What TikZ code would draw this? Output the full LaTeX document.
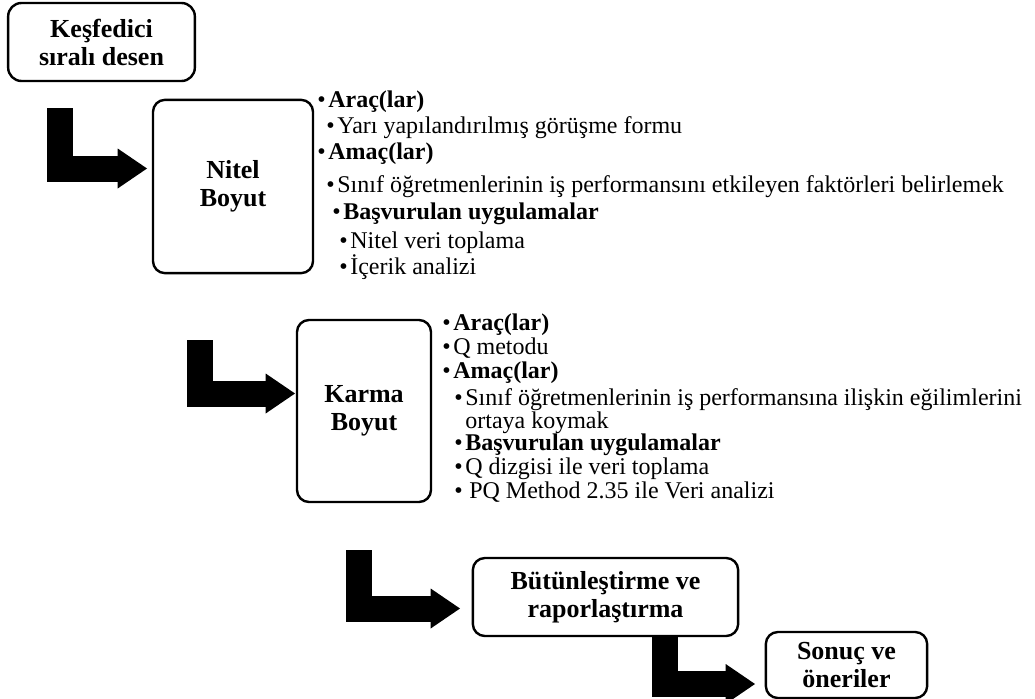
\documentclass[tikz,border=0pt]{standalone}
\usepackage{fontspec}
\setmainfont{Liberation Serif}
\usetikzlibrary{arrows.meta}
\newcommand{\bul}[1]{\hspace*{#1}\textbullet\hspace{2pt}}

\begin{document}
\begin{tikzpicture}[
  x=0.75pt,y=-0.75pt,
  stage/.style={draw=black,line width=1.8pt,rounded corners=9pt,fill=white,align=center,inner sep=2pt,font=\bfseries\fontsize{19.5}{21}\selectfont},
  items/.style={align=left,inner sep=0pt,anchor=north west},
  bentarrow/.style={draw=black,line width=19.5pt,-{Triangle[length=22pt,width=30pt,line width=0pt]}}
]
\useasboundingbox (0,0) rectangle (1035,699);

\node[stage,minimum width=140pt,minimum height=58.5pt,rounded corners=10pt] (kesif) at (101.5,42) {Keşfedici\\sıralı desen};
\node[stage,minimum width=120pt,minimum height=130pt] (nitel) at (233,186.5) {Nitel\\Boyut};
\node[stage,minimum width=100.5pt,minimum height=136.5pt] (karma) at (364,411) {Karma\\Boyut};
\node[stage,minimum width=199pt,minimum height=58.5pt] (butun) at (605.5,597) {Bütünleştirme ve\\raporlaştırma};
\node[stage,minimum width=121pt,minimum height=49.5pt] (sonuc) at (846.5,665) {Sonuç ve\\öneriler};

% madde listeleri
\node[items,font=\fontsize{18}{19.5}\selectfont] (nitelitems) at (317,91) {%
\bul{0pt}\textbf{Araç(lar)}\\
\bul{6.75pt}Yarı yapılandırılmış görüşme formu\\
\bul{0pt}\textbf{Amaç(lar)}\\[5.25pt]
\bul{6.75pt}Sınıf öğretmenlerinin iş performansını etkileyen faktörleri belirlemek\\[0.75pt]
\bul{11.25pt}\textbf{Başvurulan uygulamalar}\\[2.25pt]
\bul{16.5pt}Nitel veri toplama\\
\bul{16.5pt}İçerik analizi};
\node[items,font=\fontsize{18}{18}\selectfont] (karmaitems) at (442,314) {%
\bul{0pt}\textbf{Araç(lar)}\\
\bul{0pt}Q metodu\\
\bul{0pt}\textbf{Amaç(lar)}\\[2pt]
\bul{9pt}Sınıf öğretmenlerinin iş performansına ilişkin eğilimlerini\\[-1pt]
\hspace*{9pt}\phantom{\textbullet}\hspace{2pt}ortaya koymak\\[-1pt]
\bul{9pt}\textbf{Başvurulan uygulamalar}\\
\bul{9pt}Q dizgisi ile veri toplama\\
\bul{9pt}\hspace{3pt}PQ Method 2.35 ile Veri analizi};

% bükük oklar
\coordinate (a1top) at (60,108);
\coordinate (a1tip) at (147,168.5);
\coordinate (a2top) at (199.5,340);
\coordinate (a2tip) at (295,393.5);
\coordinate (a3top) at (358.5,550);
\coordinate (a3tip) at (460,608.5);
\coordinate (a4tip) at (755,684);
\draw[bentarrow] (a1top) |- (a1tip);
\draw[bentarrow] (a2top) |- (a2tip);
\draw[bentarrow] (a3top) |- (a3tip);
\draw[bentarrow] ([xshift=44.6pt]butun.south) |- (a4tip);
\end{tikzpicture}
\end{document}
